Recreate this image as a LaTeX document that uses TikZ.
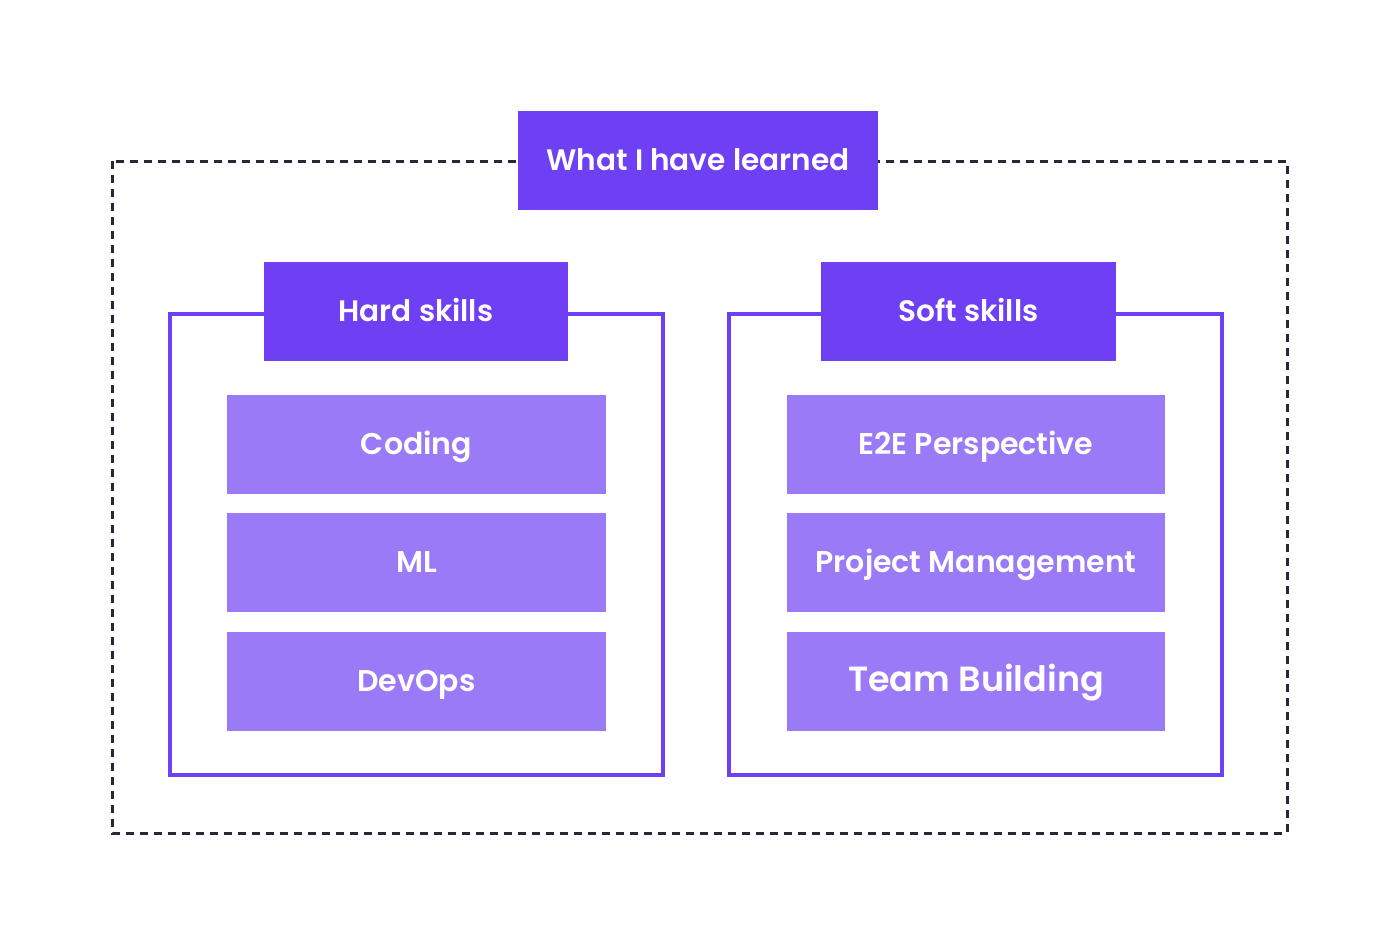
\documentclass[tikz,border=0pt]{standalone}
\usepackage{fontspec}
\setmainfont{Poppins}[BoldFont={Poppins SemiBold}]
\begin{document}
\begin{tikzpicture}[x=0.5pt,y=-0.5pt,
  box/.style={draw=none,text=white,inner sep=0pt,text height=1.0em,text depth=0em},
  hdr/.style={box,fill=hdrc,font=\bfseries\fontsize{14.8}{17}\selectfont},
  item/.style={box,fill=itemc,font=\bfseries\fontsize{15}{17}\selectfont},
  frame/.style={draw=hdrc,line width=2pt},
  outer/.style={draw=darkc,line width=1.5pt,dash pattern=on 4pt off 3pt}]
\definecolor{hdrc}{HTML}{6E3FF3}
\definecolor{itemc}{HTML}{9B7AF7}
\definecolor{darkc}{HTML}{2A2838}
\useasboundingbox (0,0) rectangle (1400,947);
\fill[white] (0,0) rectangle (1400,947);
\draw[outer] (112,161) rectangle (1287,833);
\draw[frame] (170,314) rectangle (663,775);
\draw[frame] (729,314) rectangle (1222,775);
\node[hdr,minimum width=180pt,minimum height=49.5pt] (title) at (698,160.5) {What I have learned};
\node[hdr,minimum width=152pt,minimum height=49.5pt] (hard) at (416,311.5) {Hard skills};
\node[hdr,minimum width=147.5pt,minimum height=49.5pt] (soft) at (968.5,311.5) {Soft skills};
\node[item,minimum width=189.5pt,minimum height=49.5pt] (coding) at (416.5,444.5) {Coding};
\node[item,minimum width=189.5pt,minimum height=49.5pt] (ml) at (416.5,562.5) {ML};
\node[item,minimum width=189.5pt,minimum height=49.5pt] (devops) at (416.5,681) {DevOps};
\node[item,minimum width=189pt,minimum height=49.5pt] (e2e) at (976,444.5) {E2E Perspective};
\node[item,minimum width=189pt,minimum height=49.5pt] (pm) at (976,562.5) {Project Management};
\node[item,minimum width=189pt,minimum height=49.5pt,font=\bfseries\fontsize{17.5}{20}\selectfont] (team) at (976,681) {Team Building};
\end{tikzpicture}
\end{document}
